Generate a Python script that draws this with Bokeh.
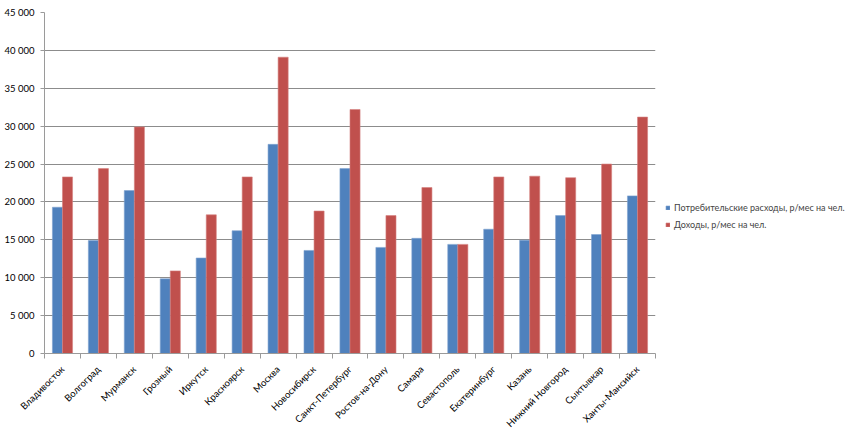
import math
from bokeh.plotting import figure
from bokeh.models import (ColumnDataSource, Range1d, FixedTicker, Legend, LegendItem)
from bokeh.transform import dodge
from bokeh.embed import file_html
from bokeh.resources import INLINE

cities = ["Владивосток", "Волгоград", "Мурманск", "Грозный", "Иркутск", "Красноярск",
          "Москва", "Новосибирск", "Санкт-Петербург", "Ростов-на-Дону", "Самара",
          "Севастополь", "Екатеринбург", "Казань", "Нижний Новгород", "Сыктывкар",
          "Ханты-Мансийск"]
expenses = [19300, 14900, 21500, 9850, 12600, 16200, 27600, 13600, 24400, 14000, 15200,
            14400, 16400, 14950, 18200, 15700, 20800]
income = [23300, 24400, 29900, 10900, 18300, 23300, 39100, 18800, 32200, 18200, 21900,
          14400, 23300, 23400, 23200, 25000, 31200]
y_ticks = [0, 5000, 10000, 15000, 20000, 25000, 30000, 35000, 40000, 45000]
series_names = ["Потребительские расходы, р/мес на чел.", "Доходы, р/мес на чел."]
colors = ["#4F81BD", "#C0504D"]

FONT = "Lato"

n = len(cities)
centers = [i + 0.5 for i in range(n)]
src = ColumnDataSource(dict(x=centers, exp=expenses, inc=income))

p = figure(frame_width=611, frame_height=341, output_backend="svg", toolbar_location=None,
           x_range=Range1d(0, n), y_range=Range1d(0, 45000),
           min_border_left=44, min_border_right=0, min_border_top=12, min_border_bottom=80)
p.outline_line_color = None
p.background_fill_color = "white"

bw = 0.28
r1 = p.vbar(x=dodge("x", -bw / 2, range=p.x_range), top="exp", width=bw, bottom=0,
            source=src, fill_color=colors[0], line_color="#7FA3D0", line_width=0.6)
r2 = p.vbar(x=dodge("x", bw / 2, range=p.x_range), top="inc", width=bw, bottom=0,
            source=src, fill_color=colors[1], line_color="#D58280", line_width=0.6)

# y axis
p.yaxis.ticker = FixedTicker(ticks=y_ticks)
p.yaxis.major_label_overrides = {t: f"{t:,}".replace(",", " ") for t in y_ticks}
p.yaxis.axis_line_color = "#9A9A9A"
p.yaxis.major_tick_line_color = "#9A9A9A"
p.yaxis.major_tick_out = 4
p.yaxis.major_tick_in = 0
p.yaxis.minor_tick_line_color = None
p.yaxis.major_label_text_font = FONT
p.yaxis.major_label_text_font_size = "9.5px"
p.yaxis.major_label_text_color = "#000000"
p.yaxis.major_label_standoff = 6

# x axis
p.xaxis.ticker = FixedTicker(ticks=centers, minor_ticks=[float(i) for i in range(n + 1)])
p.xaxis.major_label_overrides = {c: name for c, name in zip(centers, cities)}
p.xaxis.major_label_orientation = math.pi / 4
p.xaxis.major_tick_line_color = None
p.xaxis.minor_tick_line_color = "#9A9A9A"
p.xaxis.minor_tick_out = 5
p.xaxis.minor_tick_in = 0
p.xaxis.axis_line_color = "#9A9A9A"
p.xaxis.major_label_text_font = FONT
p.xaxis.major_label_text_font_size = "9.5px"
p.xaxis.major_label_text_color = "#000000"
p.xaxis.major_label_standoff = 8

p.xgrid.grid_line_color = None
p.ygrid.ticker = FixedTicker(ticks=y_ticks)
p.ygrid.grid_line_color = "#8C8C8C"
p.ygrid.grid_line_width = 1

legend = Legend(items=[LegendItem(label=series_names[0], renderers=[r1]),
                       LegendItem(label=series_names[1], renderers=[r2])],
                location=(10, 123))
legend.border_line_color = None
legend.background_fill_alpha = 0
legend.label_text_font = FONT
legend.label_text_font_size = "9px"
legend.glyph_width = 5
legend.glyph_height = 5
legend.label_standoff = 4
legend.spacing = 5
legend.padding = 4
legend.margin = 0
legend.label_height = 12
p.add_layout(legend, "right")

open("out.html", "w").write(file_html(p, INLINE))
